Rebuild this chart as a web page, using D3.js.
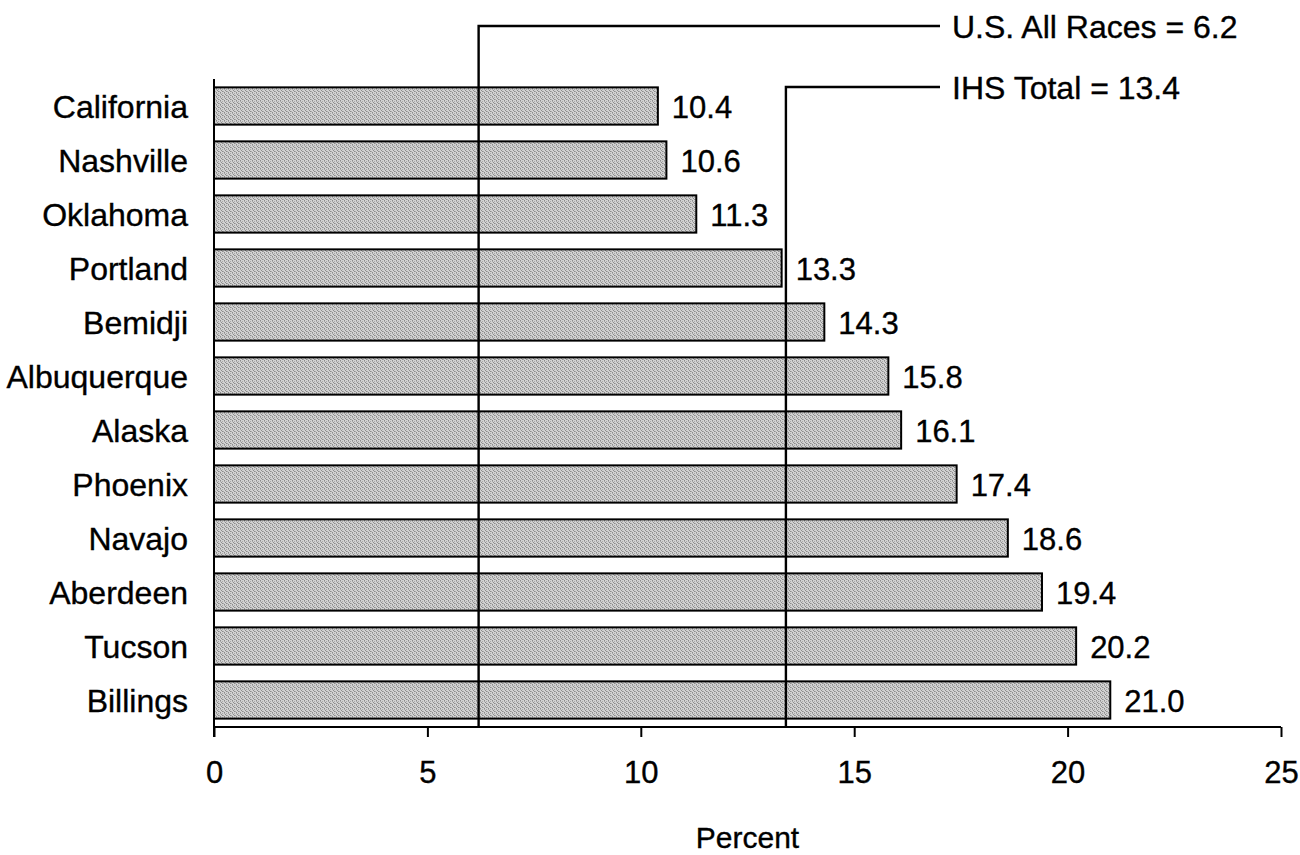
<!DOCTYPE html>
<html>
<head>
<meta charset="utf-8">
<script src="https://cdn.jsdelivr.net/npm/d3@7"></script>
<style>
  html, body { margin: 0; padding: 0; background: #fff; }
  svg text { font-family: Arial, "Liberation Sans", sans-serif; fill: #000; stroke: #000; stroke-width: 0.35px; }
</style>
</head>
<body>
<svg id="chart" width="1300" height="855"></svg>
<script>
const categories = ["California","Nashville","Oklahoma","Portland","Bemidji","Albuquerque","Alaska","Phoenix","Navajo","Aberdeen","Tucson","Billings"];
const values = [10.4,10.6,11.3,13.3,14.3,15.8,16.1,17.4,18.6,19.4,20.2,21.0];
const xTicks = [0,5,10,15,20,25];
const refNames = ["U.S. All Races","IHS Total"];
const refValues = [6.2,13.4];
const xTitle = "Percent";

const FS = 31;
const svg = d3.select("#chart");

// dithered grey pattern
const defs = svg.append("defs");
const pat = defs.append("pattern").attr("id","dither").attr("patternUnits","userSpaceOnUse")
  .attr("width",4).attr("height",4);
pat.append("rect").attr("width",4).attr("height",4).attr("fill","#d2d2d2");
[[0,0],[2,1],[1,2],[3,3],[2,3],[0,1]].forEach(([px,py],i)=>{
  pat.append("rect").attr("x",px).attr("y",py).attr("width",1).attr("height",1)
    .attr("fill", i%2===0 ? "#8c8c8c" : "#a8a8a8");
});

const x = d3.scaleLinear().domain([0,25]).range([214,1281]);
const y = d3.scaleBand().domain(categories).range([79,727]).paddingInner(0.31).paddingOuter(0.155);

// bars
svg.append("g").selectAll("rect").data(categories).join("rect")
  .attr("x", x(0))
  .attr("y", d => y(d))
  .attr("width", (d,i) => x(values[i]) - x(0))
  .attr("height", y.bandwidth())
  .attr("fill","url(#dither)")
  .attr("stroke","#000").attr("stroke-width",2);

// value labels
svg.append("g").selectAll("text").data(categories).join("text")
  .attr("x", (d,i) => x(values[i]) + 14)
  .attr("y", d => y(d) + y.bandwidth()/2)
  .attr("dy","0.38em")
  .attr("font-size",FS)
  .text((d,i) => values[i].toFixed(1));

// category labels
svg.append("g").selectAll("text").data(categories).join("text")
  .attr("x", 188)
  .attr("y", d => y(d) + y.bandwidth()/2)
  .attr("dy","0.37em")
  .attr("text-anchor","end")
  .attr("font-size",32)
  .text(d => d);

// reference lines
const refY = [26, 87];
refValues.forEach((v,i) => {
  const xv = x(v);
  svg.append("path")
    .attr("d", `M${xv},727 V${refY[i]} H${940}`)
    .attr("fill","none").attr("stroke","#000").attr("stroke-width",2.4);
  svg.append("text")
    .attr("x", 952).attr("y", refY[i]).attr("dy","0.37em")
    .attr("font-size",32)
    .text(`${refNames[i]} = ${v}`);
});

// x axis
const xAxis = d3.axisBottom(x).tickValues(xTicks).tickSize(10).tickPadding(24).tickFormat(d3.format("d"));
const gx = svg.append("g").attr("transform","translate(0,727)").call(xAxis);
gx.attr("font-size",FS).attr("font-family",null);
gx.select(".domain").attr("d", `M${x(0)},0H${x(25)}`).attr("stroke","#000").attr("stroke-width",2);
gx.selectAll(".tick line").attr("stroke","#000").attr("stroke-width",2);
gx.selectAll(".tick text").attr("font-size",FS).attr("fill","#000");

// y axis line
svg.append("line").attr("x1",x(0)).attr("x2",x(0)).attr("y1",79).attr("y2",737)
  .attr("stroke","#000").attr("stroke-width",2);

// x title
svg.append("text").attr("x",(x(0)+x(25))/2).attr("y",848).attr("text-anchor","middle")
  .attr("font-size",30).text(xTitle);
</script>
</body>
</html>
